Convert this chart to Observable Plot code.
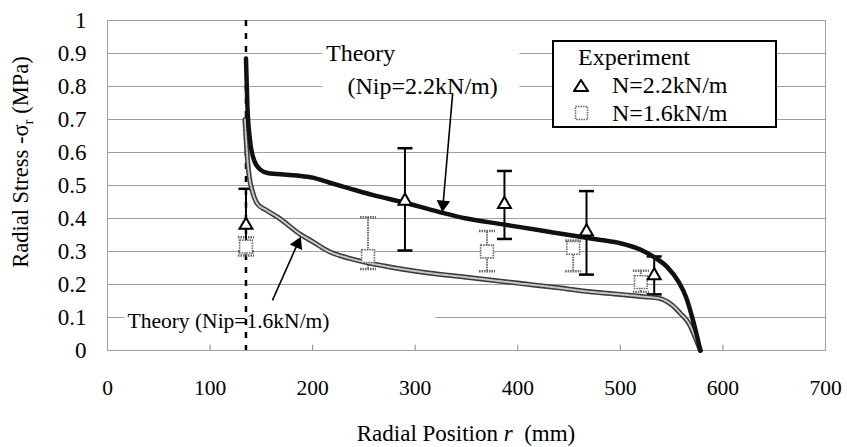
<!DOCTYPE html>
<html><head><meta charset="utf-8">
<script src="https://cdn.jsdelivr.net/npm/d3@7"></script>
<script src="https://cdn.jsdelivr.net/npm/@observablehq/plot@0.6"></script>
<style>
body{margin:0;background:#fff;}
#wrap{position:relative;width:847px;height:447px;font-family:"Liberation Serif","Times New Roman",Times,"DejaVu Serif",serif;}
#wrap svg text{font-family:"Liberation Serif","Times New Roman",Times,"DejaVu Serif",serif;}
#legend{position:absolute;left:552px;top:40px;width:221px;height:84px;border:2px solid #000;background:#fff;font-size:24px;line-height:24px;color:#000;}
#legend .row{position:absolute;white-space:nowrap;}
#legend svg{position:absolute;}
</style></head><body><div id="wrap"></div>
<script>
// ---- data ----
const xTicks = [0, 100, 200, 300, 400, 500, 600, 700];
const xMinorTicks = [100, 200, 300, 400, 500, 600];
const yTicks = [0, 0.1, 0.2, 0.3, 0.4, 0.5, 0.6, 0.7, 0.8, 0.9, 1];

// Theory, Nip = 2.2 kN/m
const rTheory22 = [135, 136.4, 139, 143, 149, 156, 165, 185, 200, 216, 235, 260, 287, 323, 350, 384, 420, 464, 481, 500, 520, 533, 546, 556, 564, 570, 575, 578];
const sTheory22 = [0.885, 0.74, 0.636, 0.576, 0.548, 0.538, 0.535, 0.530, 0.524, 0.509, 0.492, 0.47, 0.45, 0.42, 0.40, 0.383, 0.365, 0.343, 0.335, 0.325, 0.305, 0.283, 0.252, 0.212, 0.162, 0.101, 0.04, 0];
// Theory, Nip = 1.6 kN/m
const rTheory16 = [134, 135.5, 137, 138.5, 141, 146, 155, 166, 188, 200, 216, 235, 270, 313, 350, 397, 440, 464, 500, 523, 538, 549, 559, 567, 573, 578];
const sTheory16 = [0.70, 0.62, 0.56, 0.52, 0.485, 0.445, 0.425, 0.404, 0.352, 0.33, 0.30, 0.28, 0.256, 0.235, 0.222, 0.205, 0.19, 0.18, 0.17, 0.163, 0.158, 0.141, 0.111, 0.081, 0.04, 0];

// Experiment N = 2.2 kN/m (triangles)
const rExp22 = [135, 290, 387, 467, 533];
const sExp22 = [0.38, 0.453, 0.443, 0.36, 0.227];
const loExp22 = [0.30, 0.303, 0.338, 0.23, 0.17];
const hiExp22 = [0.49, 0.613, 0.544, 0.483, 0.285];
// Experiment N = 1.6 kN/m (squares)
const rExp16 = [135, 254, 370, 454, 520];
const sExp16 = [0.315, 0.286, 0.30, 0.311, 0.207];
const loExp16 = [0.288, 0.247, 0.24, 0.24, 0.177];
const hiExp16 = [0.343, 0.404, 0.362, 0.333, 0.242];

const nipRadius = [135];
const legendTitle = "Experiment";
const legendLabels = ["N=2.2kN/m", "N=1.6kN/m"];
const xTitle = ["Radial Position ", "r", "\u00a0 (mm)"];
const yTitle = ["Radial Stress -\u03c3", "r", " (MPa)"];

// annotations (data units)
const notes = [
  {x: 213, y: 0.9, text: "Theory", size: 24},
  {x: 234, y: 0.8, text: "(Nip=2.2kN/m)", size: 24},
  {x: 19.5, y: 0.088, text: "Theory (Nip=1.6kN/m)", size: 21.5}
];
const noteBoxes = [
  {x1: 210, x2: 402, y1: 0.75, y2: 0.95},
  {x1: 17, x2: 320, y1: 0.05, y2: 0.135}
];
const arrows = [
  {x1: 336.5, y1: 0.779, x2: 326.5, y2: 0.419},
  {x1: 160.8, y1: 0.152, x2: 188.4, y2: 0.345}
];

// ---- tables ----
const t22 = rTheory22.map((r, i) => ({r, s: sTheory22[i]}));
const t16 = rTheory16.map((r, i) => ({r, s: sTheory16[i]}));
const e22 = rExp22.map((r, i) => ({r, s: sExp22[i], lo: loExp22[i], hi: hiExp22[i]}));
const e16 = rExp16.map((r, i) => ({r, s: sExp16[i], lo: loExp16[i], hi: hiExp16[i]}));

const capSymbol = {draw(ctx, size) { const w = Math.sqrt(size / Math.PI); ctx.moveTo(-w, 0); ctx.lineTo(w, 0); }};
const FONT = '"Liberation Serif", "Times New Roman", Times, "DejaVu Serif", serif';

function build(heads, links) {
  return Plot.plot({
    width: 847, height: 447,
    marginLeft: 107, marginRight: 22, marginTop: 20, marginBottom: 97,
    style: {fontFamily: FONT, fontSize: "24px", color: "#000", background: "#fff", overflow: "visible"},
    x: {domain: [0, 700]},
    y: {domain: [0, 1]},
    marks: [
      Plot.gridY(yTicks, {stroke: "#a0a0a0", strokeOpacity: 1, strokeWidth: 1}),
      Plot.frame({stroke: "#a0a0a0", strokeWidth: 1}),
      Plot.ruleX(xMinorTicks, {x: d => d, y1: 0, y2: 0.016, stroke: "#888"}),
      Plot.axisX(xTicks, {tickSize: 0, tickPadding: 29, tickFormat: d => String(d), label: null, fontSize: 21.5}),
      Plot.axisY(yTicks, {tickSize: 0, tickPadding: 21, tickFormat: d => String(d), label: null, fontSize: 23}),
      Plot.rect(noteBoxes, {x1: "x1", x2: "x2", y1: "y1", y2: "y2", fill: "white"}),
      Plot.text(notes, {x: "x", y: "y", text: "text", textAnchor: "start", fontSize: d => d.size, fill: "#000"}),
      Plot.ruleX(nipRadius, {x: d => d, stroke: "#000", strokeWidth: 2.5, strokeDasharray: "6,7"}),
      // error bars
      Plot.ruleX(e16, {x: "r", y1: "lo", y2: "hi", stroke: "#666", strokeWidth: 2, strokeDasharray: "1.5,1"}),
      Plot.dot(e16, {x: "r", y: "hi", symbol: capSymbol, r: 8, stroke: "#666", strokeWidth: 2.5, strokeDasharray: "1.5,1"}),
      Plot.dot(e16, {x: "r", y: "lo", symbol: capSymbol, r: 8, stroke: "#666", strokeWidth: 2.5, strokeDasharray: "1.5,1"}),
      Plot.ruleX(e22, {x: "r", y1: "lo", y2: "hi", stroke: "#000", strokeWidth: 2}),
      Plot.dot(e22, {x: "r", y: "hi", symbol: capSymbol, r: 7.5, stroke: "#000", strokeWidth: 2.5}),
      Plot.dot(e22, {x: "r", y: "lo", symbol: capSymbol, r: 7.5, stroke: "#000", strokeWidth: 2.5}),
      // theory curves
      Plot.line(t16, {x: "r", y: "s", stroke: "#3a3a3a", strokeWidth: 5, curve: "monotone-x"}),
      Plot.line(t16, {x: "r", y: "s", stroke: "#c8c8c8", strokeWidth: 2, strokeDasharray: "2.5,1.5", curve: "monotone-x"}),
      Plot.line(t22, {x: "r", y: "s", stroke: "#111", strokeWidth: 4.5, curve: "monotone-x"}),
      // markers
      Plot.dot(e16, {x: "r", y: "s", symbol: "square", r: 7.2, fill: "white", stroke: "#666", strokeWidth: 1.6, strokeDasharray: "1.5,1"}),
      Plot.dot(e22, {x: "r", y: "s", symbol: "triangle", r: 4.8, fill: "white", stroke: "#000", strokeWidth: 2}),
      // arrows
      Plot.link(links, {x1: "x1", y1: "y1", x2: "x2", y2: "y2", stroke: "#000", strokeWidth: 1.6}),
      Plot.dot(heads, {x: "x", y: "y", symbol: "triangle", r: 5, fill: "#000", stroke: "none", rotate: "angle"})
    ]
  });
}

const c0 = build([], []);
const sx = c0.scale("x"), sy = c0.scale("y");
const heads = [], links = [];
for (const a of arrows) {
  const X1 = sx.apply(a.x1), Y1 = sy.apply(a.y1), X2 = sx.apply(a.x2), Y2 = sy.apply(a.y2);
  const dx = X2 - X1, dy = Y2 - Y1, L = Math.hypot(dx, dy);
  const ux = dx / L, uy = dy / L, back = 7.8;
  const cx = X2 - ux * back, cy = Y2 - uy * back;
  heads.push({x: sx.invert(cx), y: sy.invert(cy), angle: Math.atan2(ux, -uy) * 180 / Math.PI});
  links.push({x1: a.x1, y1: a.y1, x2: sx.invert(cx), y2: sy.invert(cy)});
}
const chart = build(heads, links);
const svg = d3.select(chart);

// axis titles
const xt = svg.append("text").attr("x", 466).attr("y", 433).attr("dy", "0.35em")
  .attr("text-anchor", "middle").attr("font-size", 23).attr("fill", "#000").style("white-space", "pre");
xt.append("tspan").text(xTitle[0]);
xt.append("tspan").attr("font-style", "italic").text(xTitle[1]);
xt.append("tspan").text(xTitle[2]);

const yt = svg.append("text").attr("transform", "translate(20,162) rotate(-90)").attr("dy", "0.35em")
  .attr("text-anchor", "middle").attr("font-size", 22.5).attr("fill", "#000");
yt.append("tspan").text(yTitle[0]);
yt.append("tspan").attr("font-size", 15).attr("dy", 5).text(yTitle[1]);
yt.append("tspan").attr("dy", -5).text(yTitle[2]);

const wrap = document.getElementById("wrap");
wrap.appendChild(chart);

// legend
const lg = document.createElement("div");
lg.id = "legend";
lg.innerHTML =
  `<div class="row" style="left:24px;top:3px">${legendTitle}</div>` +
  `<svg width="16" height="14" style="left:19px;top:37px"><path d="M8,1 L15,12 L1,12 Z" fill="white" stroke="#000" stroke-width="2"/></svg>` +
  `<div class="row" style="left:58px;top:31px">${legendLabels[0]}</div>` +
  `<svg width="16" height="16" style="left:20px;top:63px"><rect x="1.5" y="1.5" width="12" height="13" fill="white" stroke="#666" stroke-width="1.5" stroke-dasharray="1.5,1"/></svg>` +
  `<div class="row" style="left:58px;top:59px">${legendLabels[1]}</div>`;
wrap.appendChild(lg);
</script></body></html>
